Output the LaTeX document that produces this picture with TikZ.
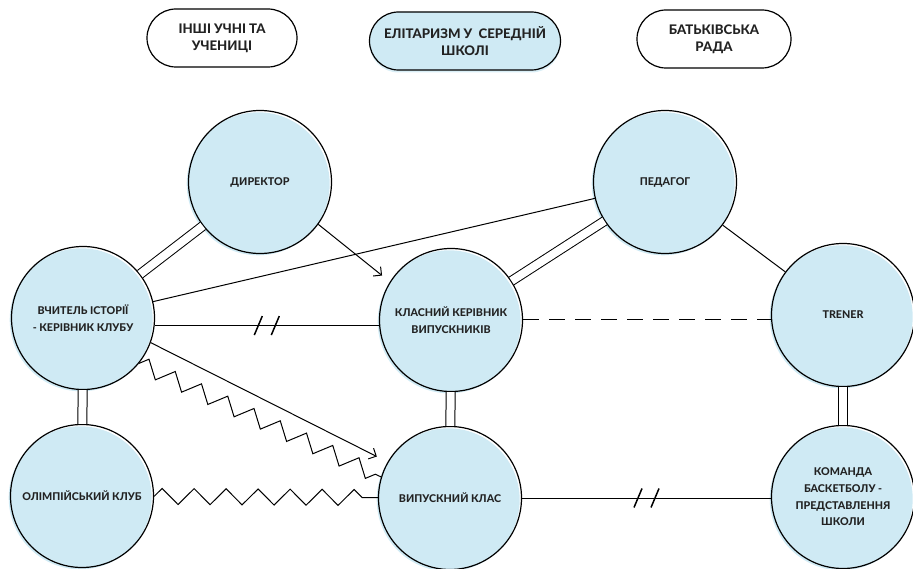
\documentclass[tikz,border=0pt]{standalone}
\usepackage{fontspec}
\setmainfont{Lato}[BoldFont={Lato Heavy}]
\usetikzlibrary{arrows.meta, decorations.pathmorphing, shadows}

\definecolor{roleblue}{RGB}{207,234,244}
\definecolor{roletext}{RGB}{34,34,34}

\tikzset{
    role/.style={circle, draw, line width=1.2pt, minimum size=143pt, inner sep=0pt, align=center,
        text=roletext, font=\bfseries\fontsize{10.7}{16.7}\selectfont,
        general shadow={fill=roleblue, shadow xshift=-1.8pt, shadow yshift=-1.8pt}},
    group/.style={draw, line width=1.2pt, rounded corners=29pt, minimum width=150pt, minimum height=58pt,
        align=center, text=roletext, font=\bfseries\fontsize{13.2}{17}\selectfont},
    link/.style={line width=1pt},
    tie/.style={link, double, double distance=8pt},
    tense/.style={link, decorate, decoration={zigzag, segment length=30pt, amplitude=8pt}},
    pics/cut/.style={code={
        \draw [line width=1.5pt] (-12.5,-9.5) -- (-4.5,9.5);
        \draw [line width=1.5pt] (4.5,-9.5) -- (12.5,9.5);
    }},
}

\begin{document}
\begin{tikzpicture}[x=1pt, y=1pt]
    \useasboundingbox (0,0) rectangle (913,568);
    % groups on top
    \node [group] (others) at (222,530) {ІНШІ УЧНІ ТА\\УЧЕНИЦІ};
    \node [group, minimum width=191pt, fill=roleblue,
        general shadow={fill=roleblue!80, shadow yshift=-2.5pt}] (elite) at (465,527) {ЕЛІТАРИЗМ У~ СЕРЕДНІЙ\\ШКОЛІ};
    \node [group, minimum width=154pt] (parents) at (714,529) {БАТЬКІВСЬКА\\РАДА};
    % people
    \node [role] (director) at (260,386) {ДИРЕКТОР};
    \node [role] (pedagogue) at (665,386) {ПЕДАГОГ};
    \node [role] (historyTeacher) at (83,250) {ВЧИТЕЛЬ ІСТОРІЇ\\- КЕРІВНИК КЛУБУ};
    \node [role] (classTeacher) at (451,248) {КЛАСНИЙ КЕРІВНИК\\ВИПУСКНИКІВ};
    \node [role] (coach) at (843,253) {TRENER};
    \node [role] (olympClub) at (82,72) {ОЛІМПІЙСЬКИЙ КЛУБ};
    \node [role] (gradClass) at (450,70) {ВИПУСКНИЙ КЛАС};
    \node [role] (team) at (843,71) {КОМАНДА\\БАСКЕТБОЛУ -\\ПРЕДСТАВЛЕННЯ\\ШКОЛИ};
    % close ties
    \draw [tie] (director) -- (historyTeacher);
    \draw [tie] (historyTeacher) -- (olympClub);
    \draw [tie] (classTeacher) -- (pedagogue);
    \draw [tie] (classTeacher) -- (gradClass);
    \draw [tie] (coach) -- (team);
    % plain links
    \draw [link] (historyTeacher) -- (pedagogue);
    \draw [link] (pedagogue) -- (coach);
    \draw [link, dash pattern=on 16pt off 10pt] (classTeacher.east) -- (classTeacher.east -| coach.west);
    \draw [link, arrows={-Straight Barb[length=6pt, width=12pt]}, shorten >=10pt] (director.-36) -- (classTeacher.148);
    \draw [link, arrows={-Straight Barb[length=6pt, width=12pt]}, shorten >=12pt] (historyTeacher.-20) -- (gradClass.150);
    % broken links
    \draw [link] (historyTeacher.-6) -- coordinate [pos=0.5] (cutA) (historyTeacher.-6 -| classTeacher.west);
    \pic at (cutA) {cut};
    \draw [link] (gradClass.east) -- coordinate [pos=0.5] (cutB) (gradClass.east -| team.west);
    \pic at (cutB) {cut};
    % conflicts
    \draw [tense, decoration={segment length=29pt}] (historyTeacher.-39) -- (gradClass.163);
    \draw [tense, decoration={segment length=32pt}] (olympClub) -- (gradClass);
\end{tikzpicture}
\end{document}
